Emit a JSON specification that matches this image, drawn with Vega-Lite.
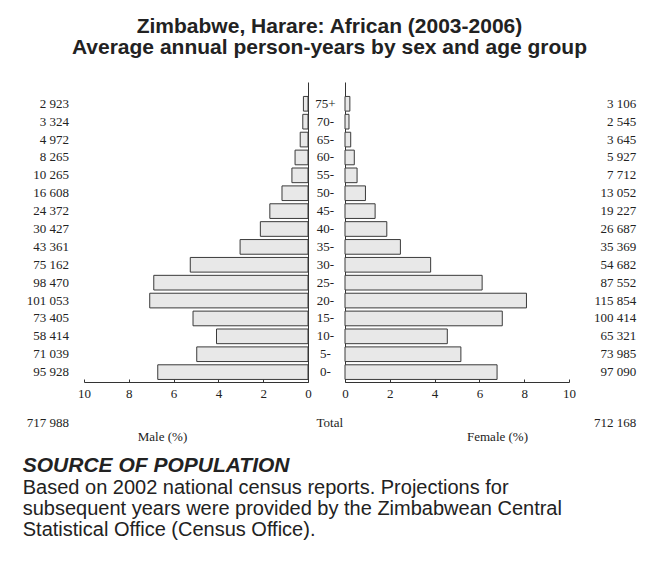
{
  "$schema": "https://vega.github.io/schema/vega-lite/v6.json",
  "padding": {"left": 22, "top": 16, "right": 5, "bottom": 5},
  "background": "white",
  "config": {
    "locale": {"number": {"decimal": ".", "thousands": " ", "grouping": [3], "currency": ["", ""]}},
    "view": {"stroke": null},
    "text": {"font": "Liberation Serif", "fontSize": 13, "color": "#222"}
  },
  "datasets": {
    "pyr": [
      {"age": "75+", "male": 2923, "female": 3106, "male_pct": 0.2044, "female_pct": 0.2172},
      {"age": "70-", "male": 3324, "female": 2545, "male_pct": 0.2324, "female_pct": 0.1780},
      {"age": "65-", "male": 4972, "female": 3645, "male_pct": 0.3477, "female_pct": 0.2549},
      {"age": "60-", "male": 8265, "female": 5927, "male_pct": 0.5779, "female_pct": 0.4144},
      {"age": "55-", "male": 10265, "female": 7712, "male_pct": 0.7178, "female_pct": 0.5392},
      {"age": "50-", "male": 16608, "female": 13052, "male_pct": 1.1613, "female_pct": 0.9126},
      {"age": "45-", "male": 24372, "female": 19227, "male_pct": 1.7041, "female_pct": 1.3444},
      {"age": "40-", "male": 30427, "female": 26687, "male_pct": 2.1275, "female_pct": 1.8660},
      {"age": "35-", "male": 43361, "female": 35369, "male_pct": 3.0319, "female_pct": 2.4731},
      {"age": "30-", "male": 75162, "female": 54682, "male_pct": 5.2555, "female_pct": 3.8235},
      {"age": "25-", "male": 98470, "female": 87552, "male_pct": 6.8853, "female_pct": 6.1219},
      {"age": "20-", "male": 101053, "female": 115854, "male_pct": 7.0659, "female_pct": 8.1008},
      {"age": "15-", "male": 73405, "female": 100414, "male_pct": 5.1327, "female_pct": 7.0212},
      {"age": "10-", "male": 58414, "female": 65321, "male_pct": 4.0845, "female_pct": 4.5674},
      {"age": "5-", "male": 71039, "female": 73985, "male_pct": 4.9672, "female_pct": 5.1732},
      {"age": "0-", "male": 95928, "female": 97090, "male_pct": 6.7075, "female_pct": 6.7888}
    ],
    "tot": [
      {"label": "Total", "male": 717988, "female": 712168}
    ]
  },
  "title": {
    "text": ["Zimbabwe, Harare: African (2003-2006)", "Average annual person-years by sex and age group"],
    "font": "Liberation Sans",
    "fontSize": 21,
    "fontWeight": "bold",
    "color": "#222",
    "lineHeight": 21,
    "anchor": "middle",
    "offset": 24
  },
  "spacing": 17,
  "vconcat": [
    {
      "bounds": "flush",
      "spacing": 37,
      "hconcat": [
        {
          "width": 224,
          "height": 300,
          "data": {"name": "pyr"},
          "encoding": {
            "y": {
              "field": "age", "type": "nominal",
              "scale": {"domain": ["75+","70-","65-","60-","55-","50-","45-","40-","35-","30-","25-","20-","15-","10-","5-","0-"], "paddingInner": 0.18, "paddingOuter": 0.475, "align": 0.85},
              "axis": {"orient": "right", "labels": false, "ticks": false, "domain": true, "domainColor": "#333", "title": null}
            }
          },
          "layer": [
            {
              "mark": {"type": "bar", "fill": "#e8e8e8", "stroke": "#3a3a3a", "strokeWidth": 1},
              "encoding": {
                "x": {
                  "field": "male_pct", "type": "quantitative",
                  "scale": {"domain": [0, 10], "reverse": true, "nice": false},
                  "axis": {"values": [0,1,2,3,4,5,6,7,8,9,10], "labelExpr": "datum.value % 2 == 0 ? datum.label : ''", "title": null, "grid": false, "tickSize": -3, "tickColor": "#333", "domainColor": "#333", "labelFont": "Liberation Serif", "labelFontSize": 13, "labelColor": "#222", "labelPadding": 8, "labelFlush": false}
                }
              }
            },
            {
              "mark": {"type": "text", "align": "right", "baseline": "middle"},
              "encoding": {
                "x": {"datum": 10.67, "type": "quantitative"},
                "text": {"field": "male", "type": "quantitative", "format": ",d"}
              }
            }
          ]
        },
        {
          "width": 224,
          "height": 300,
          "data": {"name": "pyr"},
          "encoding": {
            "y": {
              "field": "age", "type": "nominal",
              "scale": {"domain": ["75+","70-","65-","60-","55-","50-","45-","40-","35-","30-","25-","20-","15-","10-","5-","0-"], "paddingInner": 0.18, "paddingOuter": 0.475, "align": 0.85},
              "axis": {"orient": "left", "ticks": false, "domain": true, "domainColor": "#333", "title": null, "labelAlign": "center", "labelPadding": 20, "labelFont": "Liberation Serif", "labelFontSize": 13, "labelColor": "#222"}
            }
          },
          "layer": [
            {
              "mark": {"type": "bar", "fill": "#e8e8e8", "stroke": "#3a3a3a", "strokeWidth": 1},
              "encoding": {
                "x": {
                  "field": "female_pct", "type": "quantitative",
                  "scale": {"domain": [0, 10], "nice": false},
                  "axis": {"values": [0,1,2,3,4,5,6,7,8,9,10], "labelExpr": "datum.value % 2 == 0 ? datum.label : ''", "title": null, "grid": false, "tickSize": -3, "tickColor": "#333", "domainColor": "#333", "labelFont": "Liberation Serif", "labelFontSize": 13, "labelColor": "#222", "labelPadding": 8, "labelFlush": false}
                }
              }
            },
            {
              "mark": {"type": "text", "align": "right", "baseline": "middle"},
              "encoding": {
                "x": {"datum": 13.0, "type": "quantitative"},
                "text": {"field": "female", "type": "quantitative", "format": ",d"}
              }
            }
          ]
        }
      ]
    },
    {
      "bounds": "flush",
      "spacing": 37,
      "title": {
        "text": "SOURCE OF POPULATION",
        "subtitle": ["Based on 2002 national census reports. Projections for", "subsequent years were provided by the Zimbabwean Central", "Statistical Office (Census Office)."],
        "orient": "bottom",
        "anchor": "start",
        "font": "Liberation Sans",
        "fontSize": 21,
        "fontWeight": "bold",
        "fontStyle": "italic",
        "color": "#222",
        "subtitleFont": "Liberation Sans",
        "subtitleFontSize": 20,
        "subtitleColor": "#222",
        "subtitleLineHeight": 21,
        "subtitlePadding": 2,
        "offset": 12,
        "dx": -4
      },
      "hconcat": [
        {
          "width": 224,
          "height": 10,
          "data": {"name": "tot"},
          "mark": {"type": "text", "align": "right", "baseline": "middle"},
          "encoding": {
            "x": {"datum": 10.67, "type": "quantitative", "scale": {"domain": [0, 10], "reverse": true, "nice": false},
                  "axis": {"title": "Male (%)", "domain": false, "ticks": false, "labels": false, "grid": false, "titleFont": "Liberation Serif", "titleFontSize": 13, "titleFontWeight": "normal", "titleColor": "#222", "titleX": 78, "titlePadding": 2}},
            "text": {"field": "male", "type": "quantitative", "format": ",d"}
          }
        },
        {
          "width": 224,
          "height": 10,
          "data": {"name": "tot"},
          "layer": [
            {
              "mark": {"type": "text", "align": "right", "baseline": "middle"},
              "encoding": {
                "x": {"datum": 13.0, "type": "quantitative", "scale": {"domain": [0, 10], "nice": false},
                      "axis": {"title": "Female (%)", "domain": false, "ticks": false, "labels": false, "grid": false, "titleFont": "Liberation Serif", "titleFontSize": 13, "titleFontWeight": "normal", "titleColor": "#222", "titleX": 152, "titlePadding": 2}},
                "text": {"field": "female", "type": "quantitative", "format": ",d"}
              }
            },
            {
              "mark": {"type": "text", "align": "center", "baseline": "middle"},
              "encoding": {
                "x": {"datum": -0.68, "type": "quantitative"},
                "text": {"field": "label", "type": "nominal"}
              }
            }
          ]
        }
      ]
    }
  ]
}
